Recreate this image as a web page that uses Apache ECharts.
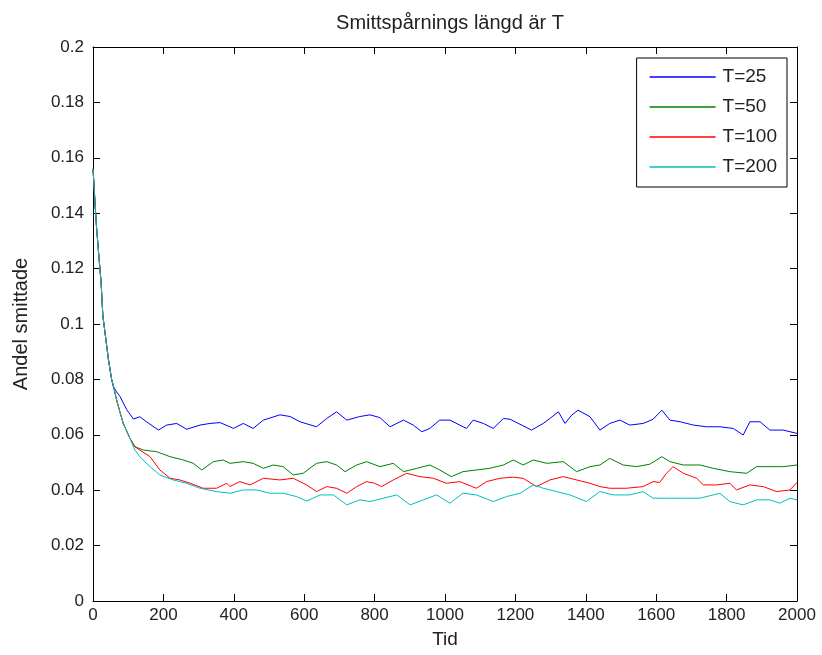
<!DOCTYPE html>
<html><head><meta charset="utf-8">
<script src="https://cdn.jsdelivr.net/npm/echarts@6/dist/echarts.min.js"></script>
<style>html,body{margin:0;padding:0;background:#fff}#c{width:822px;height:655px}</style>
</head><body><div id="c"></div>
<script>
const titleText = "Smittspårnings längd är T";
const xName = "Tid";
const yName = "Andel smittade";
const seriesNames = ["T=25", "T=50", "T=100", "T=200"];
const xTicks = [0, 200, 400, 600, 800, 1000, 1200, 1400, 1600, 1800, 2000];
const yTicks = [0, 0.02, 0.04, 0.06, 0.08, 0.1, 0.12, 0.14, 0.16, 0.18, 0.2];

const startPts = [[0,0.156],[3,0.150],[6,0.143],[10,0.135],[17,0.124],[23,0.115],[28,0.103],[36,0.095],[44,0.087],[53,0.080]];

const t25 = [[58,0.0774],[67,0.0755],[77,0.0738],[96,0.069],[115,0.0657],[133,0.0665],[152,0.0647],[186,0.0617],[209,0.0635],[238,0.0641],[266,0.062],[304,0.0635],[332,0.0641],[361,0.0644],[389,0.0629],[399,0.0623],[427,0.0641],[455,0.0623],[484,0.0653],[531,0.0672],[560,0.0666],[588,0.0647],[635,0.0629],[664,0.0659],[692,0.0683],[721,0.0653],[758,0.0666],[787,0.0672],[815,0.0662],[844,0.0629],[882,0.0653],[910,0.0635],[934,0.0611],[957,0.0623],[985,0.0653],[1014,0.0653],[1042,0.0635],[1061,0.0623],[1080,0.0653],[1109,0.0641],[1137,0.0623],[1166,0.0659],[1185,0.0656],[1213,0.0638],[1246,0.0617],[1279,0.0641],[1298,0.0659],[1322,0.0683],[1341,0.0641],[1360,0.0671],[1378,0.0689],[1412,0.0665],[1440,0.0617],[1468,0.0641],[1497,0.0653],[1525,0.0635],[1563,0.0641],[1591,0.0656],[1616,0.0689],[1639,0.0653],[1668,0.0647],[1706,0.0635],[1743,0.0629],[1781,0.0629],[1819,0.0623],[1847,0.0599],[1866,0.0647],[1895,0.0647],[1923,0.0617],[1961,0.0617],[2000,0.0605]];

const t50 = [[60,0.0765],[67,0.0726],[77,0.068],[86,0.0641],[105,0.0587],[119,0.0557],[143,0.0545],[181,0.0539],[219,0.0521],[257,0.0509],[285,0.0497],[309,0.0473],[342,0.0503],[370,0.0509],[389,0.0497],[427,0.0503],[455,0.0497],[484,0.0479],[512,0.0491],[540,0.0485],[569,0.0455],[597,0.0461],[635,0.0497],[664,0.0503],[692,0.0491],[716,0.0467],[749,0.0491],[777,0.0503],[815,0.0485],[853,0.0497],[882,0.0467],[920,0.0479],[957,0.0491],[985,0.0473],[1018,0.0449],[1051,0.0467],[1089,0.0473],[1127,0.0479],[1166,0.0491],[1194,0.0509],[1222,0.0491],[1251,0.0509],[1289,0.0497],[1336,0.0503],[1374,0.0467],[1412,0.0485],[1440,0.0491],[1468,0.0515],[1506,0.0491],[1544,0.0485],[1582,0.0494],[1616,0.0521],[1639,0.0503],[1677,0.0491],[1724,0.0491],[1762,0.0479],[1809,0.0467],[1857,0.0461],[1885,0.0485],[1923,0.0485],[1961,0.0485],[2000,0.0491]];

const t100 = [[60,0.0765],[67,0.0726],[77,0.068],[86,0.0641],[105,0.0587],[119,0.0557],[133,0.0545],[162,0.0521],[190,0.0473],[219,0.0443],[247,0.0437],[276,0.0425],[313,0.0407],[351,0.0407],[380,0.0425],[389,0.0413],[417,0.0431],[446,0.0419],[484,0.0443],[531,0.0437],[569,0.0443],[607,0.0419],[635,0.0395],[664,0.0413],[692,0.0407],[721,0.0389],[749,0.0413],[777,0.0431],[800,0.0425],[820,0.0413],[853,0.0437],[891,0.0461],[929,0.0449],[967,0.0443],[1004,0.0425],[1042,0.0431],[1089,0.0407],[1118,0.0431],[1156,0.0443],[1194,0.0447],[1222,0.0443],[1260,0.0413],[1298,0.0437],[1336,0.0449],[1374,0.0437],[1412,0.0425],[1440,0.0413],[1468,0.0407],[1515,0.0407],[1563,0.0413],[1591,0.0431],[1610,0.0428],[1629,0.0461],[1648,0.0485],[1677,0.0461],[1715,0.0443],[1734,0.0419],[1772,0.0419],[1809,0.0425],[1828,0.0401],[1866,0.0419],[1904,0.0413],[1942,0.0395],[1980,0.0401],[2000,0.0428]];

const t200 = [[60,0.0765],[67,0.0726],[77,0.068],[86,0.0641],[105,0.0587],[119,0.0545],[133,0.0521],[162,0.0485],[190,0.0455],[228,0.0437],[266,0.0425],[304,0.0407],[351,0.0395],[389,0.0389],[427,0.0401],[465,0.0401],[502,0.0389],[540,0.0389],[578,0.0377],[607,0.0361],[645,0.0383],[683,0.0383],[721,0.0347],[758,0.0365],[787,0.0359],[825,0.0371],[863,0.0383],[901,0.0347],[938,0.0365],[976,0.0383],[1014,0.0353],[1051,0.0389],[1089,0.0383],[1137,0.0359],[1175,0.0377],[1213,0.0389],[1251,0.0419],[1279,0.0407],[1317,0.0395],[1355,0.0383],[1402,0.0359],[1440,0.0395],[1478,0.0383],[1525,0.0383],[1563,0.0395],[1591,0.0371],[1629,0.0371],[1677,0.0371],[1724,0.0371],[1781,0.0389],[1809,0.0359],[1847,0.0347],[1885,0.0365],[1923,0.0365],[1951,0.0353],[1980,0.0371],[2000,0.0365]];

const colors = ["#0000ff", "#008000", "#ff0000", "#00bfbf"];
const seriesData = [t25, t50, t100, t200];

const FONT = "Liberation Sans";
const chart = echarts.init(document.getElementById('c'), null, {renderer: 'canvas'});

const axisCommon = {
  axisLine: {show: true, onZero: false, lineStyle: {color: '#000', width: 1}},
  axisTick: {show: true, inside: true, length: 7, lineStyle: {color: '#000', width: 1}},
  splitLine: {show: false},
};

chart.setOption({
  animation: false,
  backgroundColor: '#fff',
  title: {
    text: titleText, left: 445, top: 8, textAlign: 'center',
    textStyle: {fontFamily: FONT, fontSize: 20, fontWeight: 'normal', color: '#222'}
  },
  grid: {left: 93, right: 25, top: 47, bottom: 54, containLabel: false},
  legend: {
    orient: 'vertical', right: 35, top: 58,
    data: seriesNames.map(n => ({name: n, icon: 'rect'})),
    itemWidth: 66, itemHeight: 1.5, itemGap: 10,
    padding: [9, 10, 10, 13],
    backgroundColor: '#fff', borderColor: '#000', borderWidth: 1,
    textStyle: {fontFamily: FONT, fontSize: 19, color: '#222', padding: [0, 0, 0, 2], lineHeight: 20}
  },
  xAxis: [
    Object.assign({type: 'value', min: 0, max: 2000, interval: 200, position: 'bottom',
      name: xName, nameLocation: 'middle', nameGap: 29,
      nameTextStyle: {fontFamily: FONT, fontSize: 19, color: '#222'},
      axisLabel: {fontFamily: FONT, fontSize: 17, color: '#222', margin: 6,
        formatter: v => xTicks.includes(v) ? String(v) : ''}}, axisCommon),
    Object.assign({type: 'value', min: 0, max: 2000, interval: 200, position: 'top',
      axisLabel: {show: false}}, axisCommon)
  ],
  yAxis: [
    Object.assign({type: 'value', min: 0, max: 0.2, interval: 0.02, position: 'left',
      name: yName, nameLocation: 'middle', nameGap: 62,
      nameTextStyle: {fontFamily: FONT, fontSize: 20, color: '#222'},
      axisLabel: {fontFamily: FONT, fontSize: 17, color: '#222', margin: 9,
        formatter: v => { const m = yTicks.find(t => Math.abs(t - v) < 1e-9); return m === undefined ? '' : String(m); }}}, axisCommon),
    Object.assign({type: 'value', min: 0, max: 0.2, interval: 0.02, position: 'right',
      axisLabel: {show: false}}, axisCommon)
  ],
  series: seriesNames.map((n, i) => ({
    name: n, type: 'line', xAxisIndex: 0, yAxisIndex: 0,
    data: startPts.concat(seriesData[i]),
    symbol: 'none', showSymbol: false,
    lineStyle: {color: colors[i], width: 1},
    itemStyle: {color: colors[i]},
    z: 2 + i
  }))
});
</script></body></html>
